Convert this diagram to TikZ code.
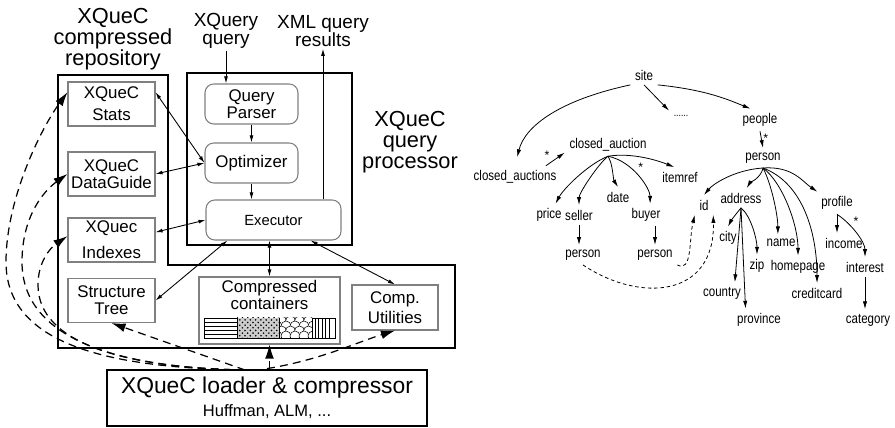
\documentclass[tikz,border=0pt]{standalone}
\usepackage{fontspec}
\setmainfont{Liberation Sans}
\newfontfamily\treefont{Liberation Sans}[FakeStretch=0.82]
\usetikzlibrary{arrows.meta,patterns}

\begin{document}
\begin{tikzpicture}[x=0.02cm,y=-0.02cm,
		frame/.style={line width=1.6pt},
		store/.style={draw=gray,line width=0.6pt,minimum width=17.4mm,minimum height=8.8mm,
			align=center,inner sep=1pt,font=\fontsize{9.6}{9.6}\selectfont},
		op/.style={store,rounded corners=5pt,minimum width=18.6mm,minimum height=8mm},
		title/.style={align=center,inner sep=0pt,font=\fontsize{12.4}{12}\selectfont},
		io/.style={align=center,inner sep=1pt,font=\fontsize{10.8}{10.3}\selectfont},
		flow/.style={line width=0.5pt,-{Latex[length=4pt,width=2.2pt]}},
		link/.style={line width=0.5pt,{Latex[length=4pt,width=2.2pt]}-{Latex[length=4pt,width=2.2pt]}},
		load/.style={line width=0.7pt,dash pattern=on 4.5pt off 3pt,-{Latex[length=8pt,width=5pt]}},
		elem/.style={font=\treefont\fontsize{8}{8}\selectfont,inner sep=2.5pt},
		tarrow/.style={line width=0.45pt,-{Latex[length=4.5pt,width=2.4pt]}},
		tref/.style={tarrow,dash pattern=on 2pt off 1.6pt},
		mult/.style={font=\fontsize{7}{7}\selectfont,inner sep=1pt}
	]
	\useasboundingbox (0,0) rectangle (895,428);

	% ---- system architecture ----
	\node[title] (reptitle) at (113,39) {XQueC\\compressed\\repository};
	\node[title] (qptitle) at (410,142) {XQueC\\query\\processor};
	\node[io] (xq) at (226,31) {XQuery\\query};
	\node[io] (res) at (323,31) {XML query\\results};

	\draw[frame] (58,75) -- (168,75) -- (168,265) -- (455,265) -- (455,348) -- (58,348) -- cycle;
	\draw[frame] (187,73) rectangle (352,245);

	\node[store] (stats) at (111.5,104) {XQueC\\[3pt]Stats};
	\node[store] (dg) at (111.5,174) {XQueC\\DataGuide};
	\node[store] (idx) at (111.5,240) {XQuec\\[5pt]Indexes};
	\node[store] (st) at (111.5,300.5) {Structure\\Tree};

	\node[op] (parser) at (251.5,104) {Query\\Parser};
	\node[op] (opt) at (251.5,163) {Optimizer};
	\node[op,minimum width=27mm,font=\fontsize{8.4}{9}\selectfont] (exec) at (273.5,220) {Executor};

	\node[store,minimum width=28.2mm,minimum height=13.4mm] (cc) at (269.5,310.5) {};
	\node[below=1pt,align=center,inner sep=1pt,font=\fontsize{9.6}{9.6}\selectfont] (cctext) at (cc.north) {Compressed\\containers};
	\node[store,minimum width=17.2mm,minimum height=9mm] (cu) at (395,307.5) {Comp.\\[2pt]Utilities};

	% container strip
	\draw[line width=0.4pt] (204,318) rectangle (335,338);
	\foreach \y in {322,326,330,334}
		\draw[line width=0.4pt] (204,\y) -- (237,\y);
	\fill[gray!40] (237,318) rectangle (279,338);
	\fill[pattern=crosshatch dots] (237,318) rectangle (279,338);
	\begin{scope}
		\clip (279,318) rectangle (312,338);
		\foreach \r [evaluate=\r as \off using {mod(\r,2)*4.5}] in {0,...,4}
			\foreach \c in {0,...,4}
				\filldraw[fill=white,line width=0.3pt] (277+\c*9+\off,316+\r*5) circle[radius=5];
	\end{scope}
	\foreach \x in {315,318.5,...,332}
		\draw[line width=0.4pt] (\x,318) -- (\x,338);
	\foreach \x in {237,279,312}
		\draw[line width=0.4pt] (\x,318) -- (\x,338);

	\node[draw,frame,minimum width=64mm,minimum height=11.2mm,align=center,inner sep=1pt] (ld) at (267,398)
		{{\fontsize{13}{14}\selectfont XQueC loader \& compressor}\\[1pt]{\fontsize{9.4}{10}\selectfont Huffman, ALM, ...}};

	\draw[flow] (xq.south) -- (xq.south |- parser.north);
	\draw[flow] (exec.north -| res.south) -- (res.south);
	\draw[flow] (parser) -- (opt);
	\draw[flow] (opt.south) -- (opt.south |- exec.north);
	\draw[link] (stats.15) -- (opt.west);
	\draw[link] (dg.east) -- (opt.west);
	\draw[link] (idx.10) -- (exec.west);
	\draw[link] (exec.204) -- (st.east);
	\draw[link] (exec.south -| cc.north) -- (cc.north);
	\draw[link] (exec.-29) -- (cu.north);

	\coordinate (fan) at (245,370);
	\draw[load] (ld.north -| cc.south) -- (cc.south);
	\draw[load] (ld.north) .. controls (320,360) and (355,343) .. (cu.south);
	\draw[load] (fan) -- (st.south);
	\draw[load] (fan) .. controls (130,368) and (38,345) .. (38,285) .. controls (38,262) and (50,248) .. (idx.175);
	\draw[load] (fan) .. controls (120,368) and (22,340) .. (22,262) .. controls (22,215) and (45,190) .. (dg.west);
	\draw[load] (fan) .. controls (110,368) and (6,345) .. (6,262) .. controls (6,200) and (40,130) .. (stats.165);

	% ---- document tree ----
	\node[elem] (site) at (644,75) {site};
	\node[elem,font=\treefont\fontsize{6}{6}\selectfont] (more) at (681,116) {......};
	\node[elem] (people) at (760,120) {people};
	\node[elem] (pp) at (763,158) {person};
	\node[elem] (cas) at (515,177) {closed\_auctions};
	\node[elem] (ca) at (608,145) {closed\_auction};
	\node[elem] (itemref) at (680,177) {itemref};
	\node[elem] (date) at (618,197) {date};
	\node[elem] (price) at (549,215) {price};
	\node[elem] (seller) at (579,215) {seller};
	\node[elem] (buyer) at (646,215) {buyer};
	\node[elem] (sp) at (583,255) {person};
	\node[elem] (bp) at (655,255) {person};
	\node[elem] (id) at (704,205) {id};
	\node[elem] (addr) at (741,198) {address};
	\node[elem] (profile) at (837,203) {profile};
	\node[elem] (city) at (728,238) {city};
	\node[elem] (name) at (781,243) {name};
	\node[elem] (income) at (844,243) {income};
	\node[elem] (zip) at (757,266) {zip};
	\node[elem] (homepage) at (798,267) {homepage};
	\node[elem] (interest) at (865,267) {interest};
	\node[elem] (country) at (722,293) {country};
	\node[elem] (creditcard) at (817,293) {creditcard};
	\node[elem] (province) at (759,320) {province};
	\node[elem] (category) at (868,320) {category};

	\draw[tarrow,shorten >=5pt] (site.south west) .. controls +(-70,15) and +(10,-40) .. (cas.north);
	\draw[tarrow] (site.south) -- (more.north west);
	\draw[tarrow] (site.south east) .. controls +(50,5) and +(-20,-8) .. (people.130);
	\draw[tarrow] (people.south) -- node[mult,right,pos=.4] (m1) {*} (pp.north);

	\draw[tarrow] (cas.20) -- node[mult,above left,pos=.3] (m2) {*} (ca.190);
	\draw[tarrow] (ca.south) .. controls +(-20,8) and +(8,-15) .. (price.60);
	\draw[tarrow] (ca.south) .. controls +(-10,8) and +(0,-12) .. (seller.north);
	\draw[tarrow] (ca.south) .. controls +(5,8) and +(-5,-8) .. (date.north);
	\draw[tarrow] (ca.south) .. controls +(25,5) and +(0,-15) .. node[mult,above right,pos=.45] (m3) {*} (buyer.70);
	\draw[tarrow] (ca.south) .. controls +(25,-4) and +(-15,-6) .. (itemref.120);
	\draw[tarrow] (seller.south) -- (seller.south |- sp.north);
	\draw[tarrow] (bp.north |- buyer.south) -- (bp.north);
	\draw[tref] (bp.south east) .. controls +(15,8) and +(-6,25) .. (id.south west);
	\draw[tref] (sp.south) .. controls +(57,38) and +(2,83) .. (id.south east);

	\draw[tarrow] (pp.south) .. controls +(-30,2) and +(8,-10) .. (id.north);
	\draw[tarrow] (pp.south) .. controls +(-2,10) and +(3,-5) .. (addr.60);
	\draw[tarrow] (pp.south) .. controls +(8,15) and +(0,-20) .. (name.110);
	\draw[tarrow] (pp.south) .. controls +(20,15) and +(0,-30) .. (homepage.north);
	\draw[tarrow] (pp.south) .. controls +(40,15) and +(0,-50) .. (creditcard.north);
	\draw[tarrow] (pp.south) .. controls +(30,-2) and +(-15,-10) .. (profile.150);

	\draw[tarrow] (addr.south) .. controls +(-5,6) and +(3,-6) .. (city.north);
	\draw[tarrow] (addr.south) -- (country.40);
	\draw[tarrow] (addr.south) -- (province.140);
	\draw[tarrow] (addr.south) .. controls +(10,8) and +(0,-15) .. (zip.north);

	\draw[tarrow] (profile.south) -- (profile.south |- income.north);
	\draw[tarrow] (profile.south) .. controls +(15,10) and +(0,-15) .. node[mult,above right,pos=.35] (m4) {*} (interest.north);
	\draw[tarrow] (interest.south) -- (interest.south |- category.north);
\end{tikzpicture}
\end{document}
